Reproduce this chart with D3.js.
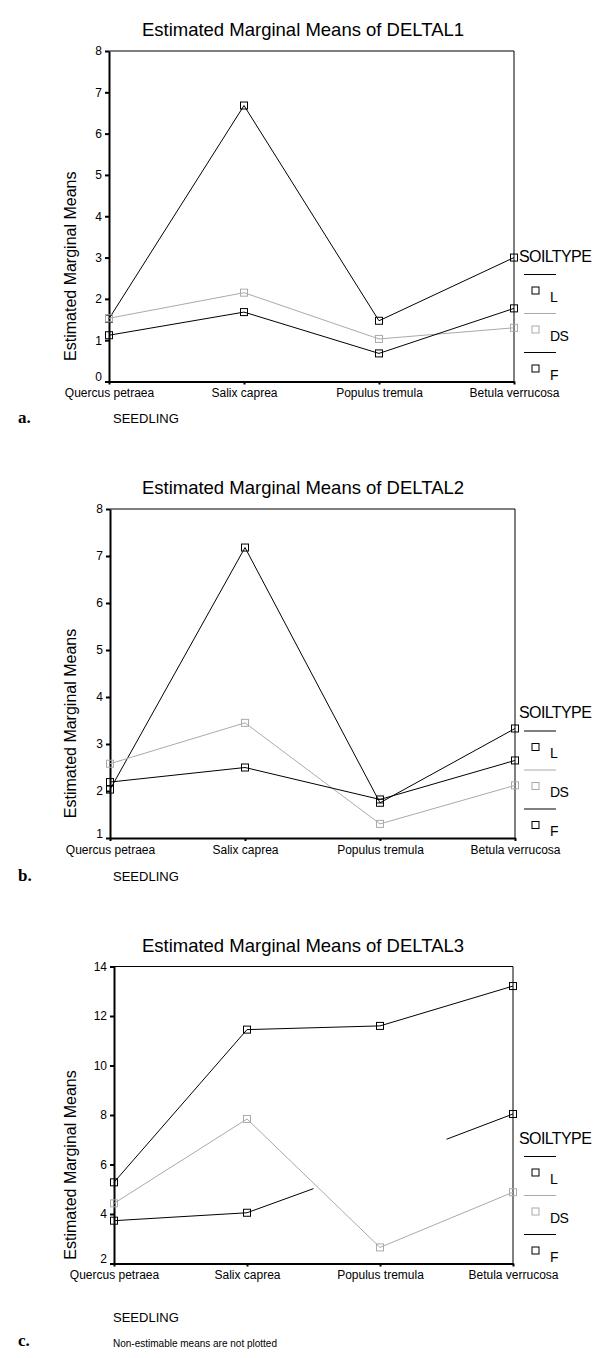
<!DOCTYPE html>
<html>
<head>
<meta charset="utf-8">
<script src="https://cdn.jsdelivr.net/npm/d3@7"></script>
<style>
  body { margin: 0; background: #fff; }
  svg { display: block; font-family: "Liberation Sans", Arial, sans-serif; }
  .axis path, .axis line { stroke: #000; }
  .axis text { fill: #000; }
</style>
</head>
<body>
<div id="chart"></div>
<script>
// categories
var seedlings = ["Quercus petraea", "Salix caprea", "Populus tremula", "Betula verrucosa"];
var soilTypes = ["L", "DS", "F"];
var soilColors = ["#000", "#aaa", "#000"];

// DELTAL1 means
var deltal1L  = [1.52, 6.68, 1.47, 3.00];
var deltal1DS = [1.53, 2.15, 1.03, 1.30];
var deltal1F  = [1.12, 1.68, 0.68, 1.77];

// DELTAL2 means
var deltal2L  = [2.03, 7.18, 1.75, 3.33];
var deltal2DS = [2.58, 3.45, 1.30, 2.12];
var deltal2F  = [2.19, 2.50, 1.82, 2.65];

// DELTAL3 means (F on Populus tremula is non-estimable)
var deltal3L  = [5.28, 11.45, 11.60, 13.21];
var deltal3DS = [4.43, 7.84, 2.65, 4.88];
var deltal3F  = [3.73, 4.05, null, 8.04];
var deltal3FStub = 6.0;   // where the half segments of F point to

var ticks1 = [0, 1, 2, 3, 4, 5, 6, 7, 8];
var ticks2 = [1, 2, 3, 4, 5, 6, 7, 8];
var ticks3 = [2, 4, 6, 8, 10, 12, 14];

var width = 610, height = 1358;

var svg = d3.select("#chart").append("svg")
    .attr("width", width)
    .attr("height", height);

var panels = [
  { title: "Estimated Marginal Means of DELTAL1", tag: "a.", series: [deltal1L, deltal1DS, deltal1F],
    ticks: ticks1, top: 51, bottom: 381.5, left: 109, right: 514, seedY: 419 },
  { title: "Estimated Marginal Means of DELTAL2", tag: "b.", series: [deltal2L, deltal2DS, deltal2F],
    ticks: ticks2, top: 509, bottom: 838, left: 110, right: 515, seedY: 877 },
  { title: "Estimated Marginal Means of DELTAL3", tag: "c.", series: [deltal3L, deltal3DS, deltal3F],
    ticks: ticks3, top: 966.5, bottom: 1263.5, left: 114, right: 513, seedY: 1318, stub: deltal3FStub,
    note: "Non-estimable means are not plotted" }
];

panels.forEach(drawPanel);

function drawPanel(p) {
  var g = svg.append("g");

  var x = d3.scalePoint()
      .domain(seedlings)
      .range([p.left, p.right]);

  var y = d3.scaleLinear()
      .domain(d3.extent(p.ticks))
      .range([p.bottom, p.top]);

  // title
  g.append("text")
      .attr("x", 303)
      .attr("y", p.top - 15)
      .attr("text-anchor", "middle")
      .style("font-size", "18.5px")
      .text(p.title);

  // frame: thin top/right
  g.append("path")
      .attr("d", "M" + p.left + "," + p.top + "H" + p.right + "V" + p.bottom)
      .attr("fill", "none")
      .attr("stroke", "#000")
      .attr("stroke-width", 1);

  // y axis
  var ya = g.append("g")
      .attr("class", "axis")
      .attr("transform", "translate(" + p.left + ",0)")
      .call(d3.axisLeft(y).tickValues(p.ticks).tickFormat(d3.format("d"))
        .tickSize(4).tickSizeOuter(0).tickPadding(3));
  ya.select(".domain").attr("stroke-width", 2);
  ya.selectAll(".tick line").attr("stroke-width", 2);
  ya.selectAll(".tick text")
      .style("font-size", "12px")
      .style("font-family", "Liberation Sans, Arial, sans-serif")
      .attr("dy", function(d, i) { return i === 0 ? "-0.05em" : "0.32em"; });

  // x axis
  var xa = g.append("g")
      .attr("class", "axis")
      .attr("transform", "translate(0," + p.bottom + ")")
      .call(d3.axisBottom(x).tickSize(3).tickSizeOuter(0).tickPadding(4));
  xa.select(".domain").attr("stroke-width", 2);
  xa.selectAll(".tick line").attr("stroke-width", 2);
  xa.selectAll(".tick text")
      .style("font-size", "12px")
      .style("font-family", "Liberation Sans, Arial, sans-serif");

  // y axis title
  g.append("text")
      .attr("transform", "translate(76," + ((p.top + p.bottom) / 2 + 50) + ") rotate(-90)")
      .attr("text-anchor", "middle")
      .style("font-size", "16px")
      .text("Estimated Marginal Means");

  // lines
  var line = d3.line()
      .defined(function(d) { return d != null; })
      .x(function(d, i) { return x(seedlings[i]); })
      .y(function(d) { return y(d); });

  p.series.forEach(function(vals, s) {
    g.append("path")
        .datum(vals)
        .attr("fill", "none")
        .attr("stroke", soilColors[s])
        .attr("stroke-width", 1)
        .attr("d", line);

    // half segments toward a non-estimable mean
    vals.forEach(function(v, i) {
      if (v != null) return;
      [i - 1, i + 1].forEach(function(j) {
        if (j < 0 || j >= vals.length || vals[j] == null) return;
        var x0 = x(seedlings[j]), y0 = y(vals[j]);
        var x1 = (x0 + x(seedlings[i])) / 2, y1 = (y0 + y(p.stub)) / 2;
        g.append("line")
            .attr("x1", x0).attr("y1", y0)
            .attr("x2", x1).attr("y2", y1)
            .attr("stroke", soilColors[s])
            .attr("stroke-width", 1);
      });
    });

    g.selectAll(".pt" + s)
        .data(vals.map(function(v, i) { return { v: v, i: i }; }).filter(function(d) { return d.v != null; }))
        .enter().append("rect")
          .attr("x", function(d) { return x(seedlings[d.i]) - 3.5; })
          .attr("y", function(d) { return y(d.v) - 3.5; })
          .attr("width", 7)
          .attr("height", 7)
          .attr("fill", "none")
          .attr("stroke", soilColors[s])
          .attr("stroke-width", 1);
  });

  // legend, anchored to the bottom of the plot
  var ly = p.bottom - 29 - 2 * 39;
  var lg = g.append("g");
  lg.append("text")
      .attr("x", 519)
      .attr("y", ly - 13)
      .style("font-size", "16px")
      .style("letter-spacing", "-0.6px")
      .text("SOILTYPE");

  soilTypes.forEach(function(t, s) {
    var yy = ly + s * 39;
    lg.append("line")
        .attr("x1", 524).attr("x2", 556)
        .attr("y1", yy).attr("y2", yy)
        .attr("stroke", soilColors[s])
        .attr("stroke-width", 1);
    lg.append("rect")
        .attr("x", 532).attr("y", yy + 12.5)
        .attr("width", 7).attr("height", 7)
        .attr("fill", "none")
        .attr("stroke", soilColors[s]);
    lg.append("text")
        .attr("x", 550).attr("y", yy + 27)
        .style("font-size", "14px")
        .style("letter-spacing", "-0.5px")
        .text(t);
  });

  // panel tag and x title
  g.append("text")
      .attr("x", 18)
      .attr("y", p.note ? p.seedY + 28 : p.seedY + 4)
      .style("font-family", "Liberation Serif, Times New Roman, serif")
      .style("font-weight", "bold")
      .style("font-size", "17px")
      .text(p.tag);

  g.append("text")
      .attr("x", 113)
      .attr("y", p.seedY + 4)
      .style("font-size", "13px")
      .text("SEEDLING");

  if (p.note) {
    g.append("text")
        .attr("x", 113)
        .attr("y", p.seedY + 29)
        .style("font-size", "10px")
        .text(p.note);
  }
}
</script>
</body>
</html>
